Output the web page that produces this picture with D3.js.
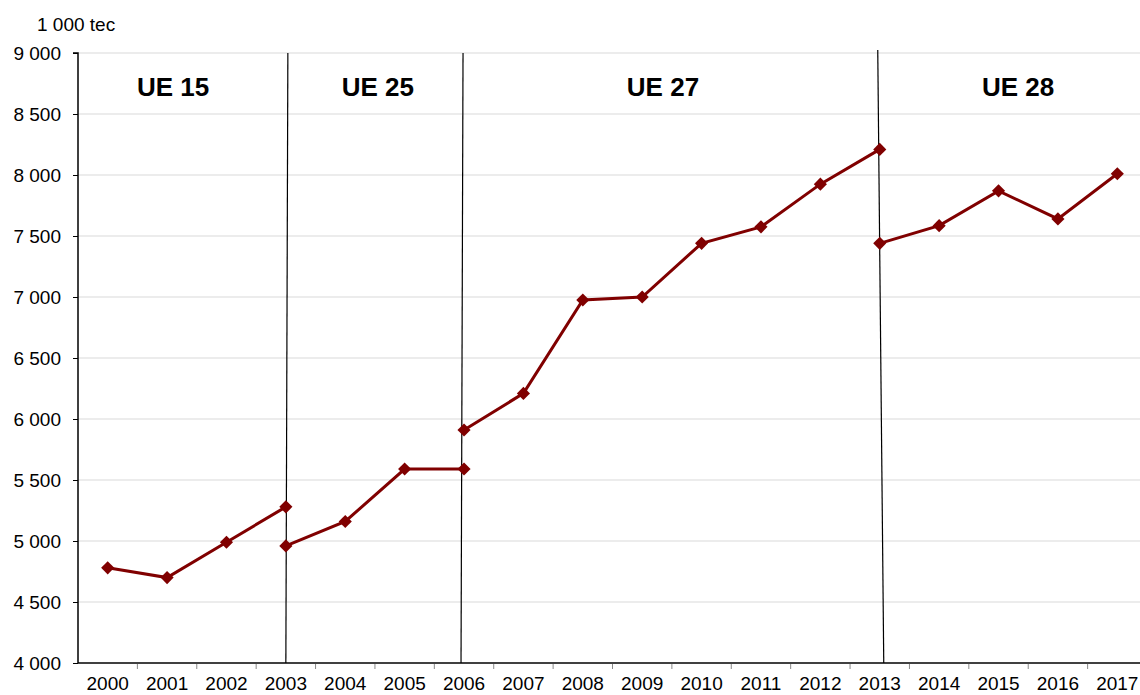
<!DOCTYPE html>
<html>
<head>
<meta charset="utf-8">
<script src="https://cdn.jsdelivr.net/npm/d3@7"></script>
<style>
  body { margin: 0; background: #fff; }
  text { font-family: Arial, "Liberation Sans", sans-serif; }
</style>
</head>
<body>
<div id="viz"></div>
<script>
// categories on the x axis
const years = ['2000','2001','2002','2003','2004','2005','2006','2007','2008',
               '2009','2010','2011','2012','2013','2014','2015','2016','2017'];

// one segment per EU enlargement period (values in 1 000 tec)
const ue15Years = ['2000','2001','2002','2003'];
const ue15Values = [4780, 4700, 4990, 5280];
const ue25Years = ['2003','2004','2005','2006'];
const ue25Values = [4960, 5160, 5590, 5590];
const ue27Years = ['2006','2007','2008','2009','2010','2011','2012','2013'];
const ue27Values = [5910, 6210, 6975, 7000, 7440, 7575, 7925, 8210];
const ue28Years = ['2013','2014','2015','2016','2017'];
const ue28Values = [7440, 7585, 7870, 7640, 8010];

// period labels and the years where the membership changes
const periodLabels = ['UE 15', 'UE 25', 'UE 27', 'UE 28'];
const periodLabelPos = [1.1, 4.55, 9.35, 15.33];   // in category index units
const breakYears = ['2003', '2006', '2013'];

const yTicks = [4000, 4500, 5000, 5500, 6000, 6500, 7000, 7500, 8000, 8500, 9000];
const unitLabel = '1 000 tec';

function buildChart(containerId) {
    const width = 1140;
    const height = 695;

    const margin = { top: 53, bottom: 32, left: 78, right: -7 };
    const innerWidth = width - margin.left - margin.right;
    const innerHeight = height - margin.top - margin.bottom;

    const svg = d3.select(containerId)
        .append('svg')
        .attr('width', width)
        .attr('height', height);

    const g = svg.append('g')
        .attr('transform', `translate(${margin.left},${margin.top})`);

    const x = d3.scaleBand()
        .domain(years)
        .range([0, innerWidth])
        .padding(0);

    const xc = d => x(d) + x.bandwidth() / 2;

    const xi = d3.scaleLinear()
        .domain([-0.5, years.length - 0.5])
        .range([0, innerWidth]);

    const y = d3.scaleLinear()
        .domain([4000, 9000])
        .range([innerHeight, 0]);

    // gridlines
    g.append('g')
        .selectAll('line')
        .data(yTicks.filter(t => t > 4000))
        .enter()
        .append('line')
        .attr('x1', 0)
        .attr('x2', innerWidth)
        .attr('y1', d => y(d))
        .attr('y2', d => y(d))
        .attr('stroke', '#d9d9d9')
        .attr('stroke-width', 1);

    // y axis
    const yAxis = d3.axisLeft(y)
        .tickValues(yTicks)
        .tickSize(5)
        .tickPadding(12)
        .tickFormat(d => d3.format(',')(d).replace(',', ' '));

    const ya = g.append('g')
        .attr('class', 'y-axis')
        .call(yAxis);
    ya.select('.domain').attr('stroke', '#000').attr('stroke-width', 1.5)
        .attr('d', `M-5,0H0V${innerHeight}`);
    ya.selectAll('.tick line').attr('stroke', '#000');
    ya.selectAll('.tick text')
        .attr('font-size', 19)
        .attr('fill', '#000');

    // x axis
    const xAxis = d3.axisBottom(x).tickSize(0).tickPadding(14);
    const xa = g.append('g')
        .attr('class', 'x-axis')
        .attr('transform', `translate(0,${innerHeight})`)
        .call(xAxis);
    xa.select('.domain').attr('stroke', '#000').attr('stroke-width', 1.5)
        .attr('d', `M0,0H${innerWidth}`);
    xa.selectAll('.tick text')
        .attr('font-size', 19)
        .attr('fill', '#000');

    // x ticks on category boundaries
    xa.selectAll('.bound')
        .data(years.slice(1))
        .enter()
        .append('line')
        .attr('class', 'bound')
        .attr('x1', d => x(d))
        .attr('x2', d => x(d))
        .attr('y1', 1)
        .attr('y2', 6)
        .attr('stroke', '#888');

    // break lines (slightly slanted as in the source drawing)
    const slant = { '2003': [2, 0, 0], '2006': [-1, -3, 0], '2013': [-2, 4, -3] };
    g.append('g')
        .selectAll('line')
        .data(breakYears)
        .enter()
        .append('line')
        .attr('x1', d => xc(d) + slant[d][0])
        .attr('x2', d => xc(d) + slant[d][1])
        .attr('y1', d => slant[d][2])
        .attr('y2', innerHeight)
        .attr('stroke', '#000')
        .attr('stroke-width', 1.2);

    // period labels
    g.append('g')
        .selectAll('text')
        .data(periodLabels)
        .enter()
        .append('text')
        .attr('x', (d, i) => xi(periodLabelPos[i]))
        .attr('y', 43)
        .attr('text-anchor', 'middle')
        .attr('font-size', 26)
        .attr('font-weight', 'bold')
        .attr('fill', '#000')
        .text(d => d);

    // unit label
    svg.append('text')
        .attr('x', 37)
        .attr('y', 31)
        .attr('font-size', 19)
        .attr('fill', '#000')
        .text(unitLabel);

    const segments = [
        ue15Years.map((yr, i) => ({ year: yr, value: ue15Values[i] })),
        ue25Years.map((yr, i) => ({ year: yr, value: ue25Values[i] })),
        ue27Years.map((yr, i) => ({ year: yr, value: ue27Values[i] })),
        ue28Years.map((yr, i) => ({ year: yr, value: ue28Values[i] }))
    ];

    const line = d3.line()
        .x(d => xc(d.year))
        .y(d => y(d.value))
        .curve(d3.curveLinear);

    const color = '#800000';

    const groups = g.selectAll('.period')
        .data(segments)
        .enter()
        .append('g')
        .attr('class', 'period');

    groups.append('path')
        .attr('fill', 'none')
        .attr('stroke', color)
        .attr('stroke-width', 3)
        .attr('d', line);

    const diamond = d3.symbol().type(d3.symbolDiamond2).size(110);

    groups.selectAll('.pt')
        .data(d => d)
        .enter()
        .append('path')
        .attr('class', 'pt')
        .attr('transform', d => `translate(${xc(d.year)},${y(d.value)})`)
        .attr('d', diamond)
        .attr('fill', color);
}

buildChart('#viz');
</script>
</body>
</html>
